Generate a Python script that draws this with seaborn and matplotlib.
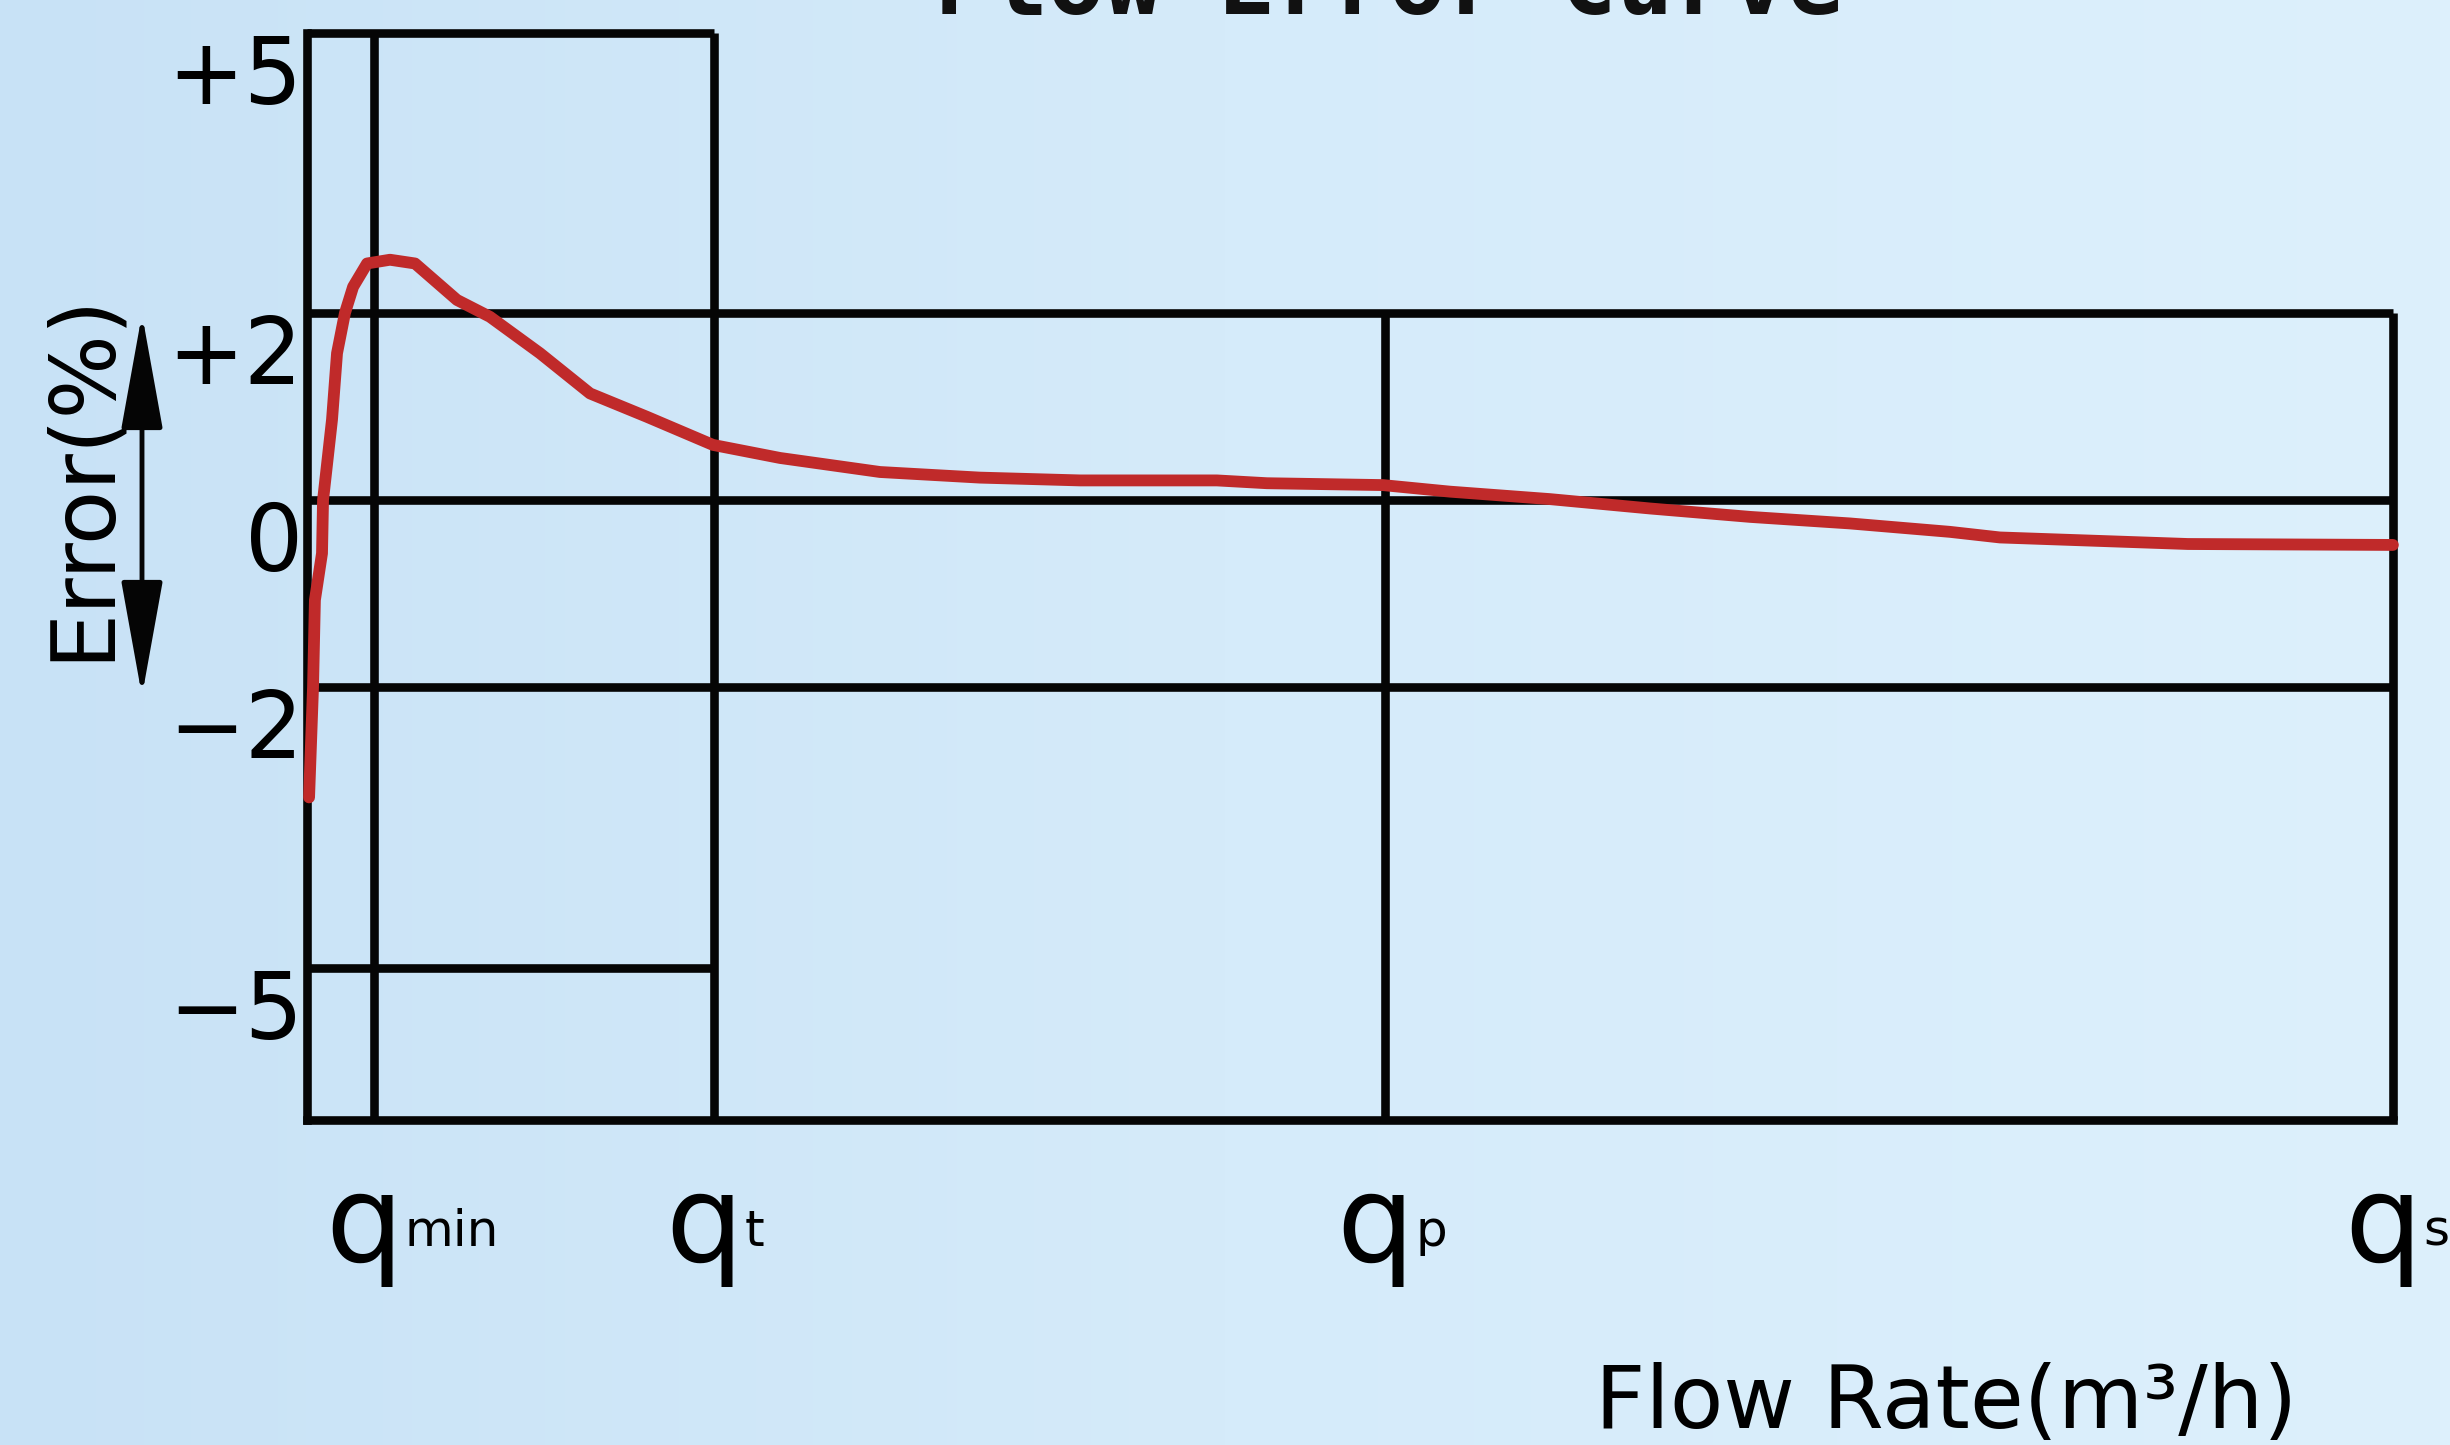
import matplotlib

matplotlib.use("Agg")
import matplotlib.pyplot as plt
import numpy as np
import pandas as pd
import seaborn as sns
from matplotlib.colors import LinearSegmentedColormap
from matplotlib.transforms import ScaledTranslation

# --- data (flow axis in arbitrary units 0..100, error in %) ---
flow_names = ["min", "t", "p", "s"]
flow_points = [3.2, 19.5, 51.7, 100.0]
error_ticks = [5, 2, 0, -2, -5]
error_tick_labels = ["+5", "+2", "0", "\u22122", "\u22125"]
wide_limit = 2  # +/-2 % band (qt .. qs)
narrow_limit = 5  # +/-5 % band (0 .. qt)

curve_flow = [0.10, 0.29, 0.38, 0.72, 0.77, 1.20, 1.44, 1.82, 2.21, 2.88,
              3.98, 5.18, 7.19, 8.77, 11.17, 13.57, 16.30, 19.46, 22.68, 27.47,
              32.26, 37.06, 43.62, 46.02, 51.58, 54.79, 59.59, 64.38, 69.18,
              73.97, 78.76, 81.16, 90.17, 100.0]
curve_error = [-3.18, -2.00, -1.07, -0.57, 0.00, 0.86, 1.57, 2.00, 2.28, 2.53,
               2.57, 2.53, 2.14, 1.96, 1.57, 1.14, 0.89, 0.59, 0.45, 0.30,
               0.24, 0.21, 0.21, 0.18, 0.16, 0.09, 0.01, -0.09, -0.18,
               -0.25, -0.34, -0.40, -0.47, -0.48]

df = pd.DataFrame({"flow": curve_flow, "error": curve_error})

sns.set_style("white")
plt.rcParams["font.family"] = ["DejaVu Sans"]
for key in ["text.color", "axes.labelcolor", "xtick.color", "ytick.color"]:
    plt.rcParams[key] = "black"

fig = plt.figure(figsize=(24.5, 14.45), dpi=100)

# light blue gradient background
bg = fig.add_axes([0, 0, 1, 1], zorder=-1)
cmap = LinearSegmentedColormap.from_list("bg", ["#c8e2f6", "#d5ebfa", "#ddf0fc"])
bg.imshow(np.linspace(0, 1, 256)[None, :], cmap=cmap, aspect="auto",
          extent=[0, 1, 0, 1])
bg.axis("off")

ax = fig.add_axes([0.1253, 0.2249, 0.8514, 0.7526])
ax.set_facecolor("none")
ax.set_xlim(0, flow_points[-1])
ax.set_ylim(-6.63, narrow_limit)

LW = 6.2
BLACK = "#050505"
q_min, q_t, q_p, q_s = flow_points
ymin = ax.get_ylim()[0]

# tolerance boxes
ax.hlines([narrow_limit, -narrow_limit], 0, q_t, color=BLACK, lw=LW, clip_on=False)
ax.hlines([wide_limit, 0, -wide_limit], 0, q_s, color=BLACK, lw=LW, clip_on=False)
ax.vlines([q_min, q_t], ymin, narrow_limit, color=BLACK, lw=LW, clip_on=False)
ax.vlines([q_p, q_s], ymin, wide_limit, color=BLACK, lw=LW, clip_on=False)

sns.lineplot(data=df, x="flow", y="error", ax=ax, color="#c02a2a",
             linewidth=8.5, sort=False, zorder=5, clip_on=False,
             solid_joinstyle="round", solid_capstyle="round")

sns.despine(ax=ax, top=True, right=True)
for side in ["left", "bottom"]:
    ax.spines[side].set_linewidth(LW)
    ax.spines[side].set_color(BLACK)

# y ticks
ax.set_yticks(error_ticks)
ax.set_yticklabels(error_tick_labels, fontsize=66, va="top")
ax.tick_params(axis="y", length=0, pad=3)

# x ticks: big "q" with small suffix
ax.set_xticks(flow_points)
ax.set_xticklabels(["q"] * len(flow_points), fontsize=88, va="baseline")
ax.tick_params(axis="x", length=0, pad=102)
shift = ScaledTranslation(-10 / 100, 0, fig.dpi_scale_trans)
for lab in ax.get_xticklabels():
    lab.set_transform(lab.get_transform() + shift)
for xv, name in zip(flow_points, flow_names):
    ax.annotate(name, xy=(xv, 199), xycoords=("data", "figure pixels"),
                xytext=(22, 0), textcoords="offset points",
                fontsize=36, ha="left", va="baseline", annotation_clip=False)

# axis labels
ax.set_xlabel("Flow Rate(m\u00b3/h)", fontsize=63)
ax.xaxis.set_label_coords(0.786, -0.283)
ax.xaxis.label.set_va("baseline")
ax.set_ylabel("Error(%)", fontsize=64)
ax.yaxis.set_label_coords(-0.1075, 0.592)
ax.yaxis.label.set_va("center")

# double arrow beside the y label
ax.annotate("", xy=(142, 749), xytext=(142, 1131), xycoords="figure pixels",
            arrowprops=dict(arrowstyle="<|-|>,head_length=3.6,head_width=0.65",
                            mutation_scale=20, lw=3.5, color=BLACK,
                            shrinkA=0, shrinkB=0))

# title, mostly cut off at the top edge
fig.text(0.5668, 1 - 14 / 1445, "Flow Error Curve", ha="center", va="baseline",
         fontsize=68, family="DejaVu Sans Mono", weight="bold", color="#111111")

fig.savefig("out.png", dpi=100)
